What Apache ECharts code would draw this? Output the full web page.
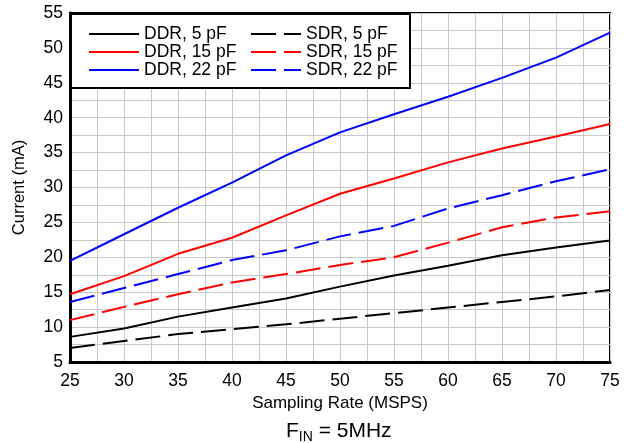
<!DOCTYPE html>
<html><head><meta charset="utf-8">
<script src="https://cdn.jsdelivr.net/npm/echarts@6/dist/echarts.min.js"></script>
<style>html,body{margin:0;padding:0;background:#fff}#c{width:631px;height:443px}</style>
</head><body><div id="c"></div>
<script>
const xValues = [25, 30, 35, 40, 45, 50, 55, 60, 65, 70, 75];
const ddr5  = [8.6, 9.8, 11.5, 12.8, 14.1, 15.8, 17.4, 18.8, 20.3, 21.4, 22.4];
const ddr15 = [14.7, 17.3, 20.5, 22.8, 26.0, 29.1, 31.3, 33.6, 35.6, 37.3, 39.1];
const ddr22 = [19.5, 23.3, 27.1, 30.7, 34.6, 37.9, 40.5, 43.0, 45.7, 48.6, 52.2];
const sdr5  = [7.0, 8.0, 9.0, 9.7, 10.4, 11.2, 12.0, 12.8, 13.6, 14.4, 15.3];
const sdr15 = [11.0, 12.9, 14.7, 16.4, 17.6, 18.9, 20.0, 22.1, 24.3, 25.7, 26.6];
const sdr22 = [13.6, 15.6, 17.6, 19.6, 21.0, 23.0, 24.5, 27.0, 28.9, 30.9, 32.6];
const yTicks = [5, 10, 15, 20, 25, 30, 35, 40, 45, 50, 55];
const xTicks = [25, 30, 35, 40, 45, 50, 55, 60, 65, 70, 75];

const FONT = '"Liberation Sans", Arial, sans-serif';
const pairs = a => xValues.map((x, i) => [x, a[i]]);
const mk = (name, data, color, dashed) => ({
  name, type: 'line', data: pairs(data), symbol: 'none', z: 5,
  lineStyle: { color, width: 2, type: dashed ? [25, 8] : 'solid' },
  itemStyle: { color }
});
const legendCommon = {
  orient: 'vertical', top: 20, z: 110, itemWidth: 50, itemHeight: 14, itemGap: 0,
  itemStyle: { opacity: 0 },
  textStyle: { fontSize: 17.5, lineHeight: 17.5, color: '#000', fontFamily: FONT }
};
const chart = echarts.init(document.getElementById('c'));
chart.setOption({
  animation: false,
  backgroundColor: '#fff',
  textStyle: { fontFamily: FONT },
  grid: { left: 70, right: 21, top: 13, bottom: 81, show: true, borderColor: '#000', borderWidth: 2, containLabel: false },
  xAxis: {
    type: 'value', min: xTicks[0], max: xTicks[xTicks.length - 1], interval: 5,
    name: 'Sampling Rate (MSPS)', nameLocation: 'middle', nameGap: 28,
    nameTextStyle: { fontSize: 17, color: '#000', fontFamily: FONT },
    axisLine: { show: true, lineStyle: { color: '#000', width: 3 } },
    axisTick: { show: false },
    axisLabel: { fontSize: 17.5, color: '#000', margin: 10, fontFamily: FONT },
    splitLine: { show: true, lineStyle: { color: '#c8c8c8', width: 1 } },
    minorTick: { show: false, splitNumber: 2 },
    minorSplitLine: { show: true, lineStyle: { color: '#c8c8c8', width: 1 } }
  },
  yAxis: {
    type: 'value', min: yTicks[0], max: yTicks[yTicks.length - 1], interval: 5,
    name: 'Current (mA)', nameLocation: 'middle', nameGap: 42,
    nameTextStyle: { fontSize: 16.5, color: '#000', fontFamily: FONT },
    axisLine: { show: true, lineStyle: { color: '#000', width: 3 } },
    axisTick: { show: false },
    axisLabel: { fontSize: 17.5, color: '#000', margin: 7, fontFamily: FONT },
    splitLine: { show: true, lineStyle: { color: '#c8c8c8', width: 1 } },
    minorTick: { show: false, splitNumber: 2 },
    minorSplitLine: { show: true, lineStyle: { color: '#c8c8c8', width: 1 } }
  },
  graphic: [{
    type: 'rect', left: 70, top: 13, z: 100,
    shape: { width: 339, height: 74 },
    style: { fill: '#fff', stroke: '#000', lineWidth: 2 }
  }],
  legend: [
    Object.assign({ data: ['DDR, 5 pF', 'DDR, 15 pF', 'DDR, 22 pF'], left: 83 }, legendCommon),
    Object.assign({ data: ['SDR, 5 pF', 'SDR, 15 pF', 'SDR, 22 pF'], left: 245 }, legendCommon)
  ],
  title: {
    text: '{a|F}{b|IN}{a| = 5MHz}', left: 281, top: 412,
    textStyle: {
      fontWeight: 'normal',
      rich: {
        a: { fontSize: 21, fontWeight: 'normal', color: '#000', fontFamily: FONT, lineHeight: 28 },
        b: { fontSize: 14, fontWeight: 'normal', color: '#000', fontFamily: FONT, lineHeight: 28, padding: [12, 0, 0, 0] }
      }
    }
  },
  series: [
    mk('DDR, 5 pF', ddr5, '#000', false),
    mk('DDR, 15 pF', ddr15, '#ff0000', false),
    mk('DDR, 22 pF', ddr22, '#0000ff', false),
    mk('SDR, 5 pF', sdr5, '#000', true),
    mk('SDR, 15 pF', sdr15, '#ff0000', true),
    mk('SDR, 22 pF', sdr22, '#0000ff', true)
  ]
});
</script></body></html>
